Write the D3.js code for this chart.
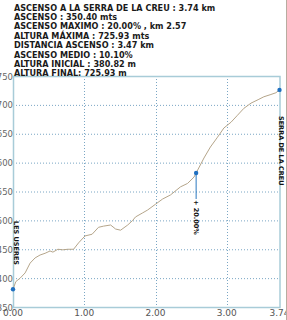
<!DOCTYPE html>
<html>
<head>
<meta charset="utf-8">
<script src="https://cdn.jsdelivr.net/npm/d3@7"></script>
<style>
body { margin: 0; background: #fff; }
svg { display: block; }
</style>
</head>
<body>
<script>
var w = 287, h = 320;

// header lines
var headerLines = [
    "ASCENSO A LA SERRA DE LA CREU : 3.74 km",
    "ASCENSO : 350.40 mts",
    "ASCENSO MAXIMO : 20.00% , km 2.57",
    "ALTURA MÁXIMA : 725.93 mts",
    "DISTANCIA ASCENSO : 3.47 km",
    "ASCENSO MEDIO : 10.10%",
    "ALTURA INICIAL : 380.82 m",
    "ALTURA FINAL: 725.93 m"
];

// profile: distance (km) and altitude (m)
var distance = [0.00, 0.04, 0.10, 0.17, 0.24, 0.31, 0.38, 0.45, 0.52, 0.56, 0.63, 0.70, 0.77, 0.85,
    0.92, 1.01, 1.11, 1.20, 1.27, 1.37, 1.44, 1.51, 1.61, 1.68, 1.72, 1.82, 1.89, 2.00, 2.10,
    2.21, 2.35, 2.45, 2.54, 2.57, 2.68, 2.77, 2.87, 2.96, 3.06, 3.15, 3.24, 3.34, 3.44, 3.52,
    3.62, 3.69, 3.74];
var altitude = [380.82, 394, 400, 409, 426, 435, 440, 443, 447, 445, 450, 449, 450, 450,
    461, 473, 476, 488, 490, 492, 485, 483, 492, 500, 506, 513, 518, 528, 537,
    544, 558, 564, 575, 582, 608, 627, 644, 660, 670, 682, 694, 703, 709, 714,
    718, 721, 725.93];

// marked points
var markDist = [0.00, 2.57, 3.74];
var markAlt = [380.82, 582, 725.93];
var markLabel = ["LES USERES", "+ 20.00%", "SERRA DE LA CREU"];

var xTicks = [0, 1, 2, 3, 3.74];
var yTicks = [350, 400, 450, 500, 550, 600, 650, 700, 750];

var svg = d3.select("body")
    .append("svg")
    .attr("width", w)
    .attr("height", h);

var xScale = d3.scaleLinear()
    .domain([0, 3.74])
    .range([13, 279.5]);

var yScale = d3.scaleLinear()
    .domain([350, 750])
    .range([307, 76]);

// grid
svg.append("g")
    .selectAll("line")
    .data(yTicks.slice(1, -1))
    .enter().append("line")
    .attr("x1", xScale(0))
    .attr("x2", xScale(3.74))
    .attr("y1", d => yScale(d) + 0.5)
    .attr("y2", d => yScale(d) + 0.5)
    .style("stroke", "#7aa6c4")
    .style("stroke-width", 1)
    .style("stroke-dasharray", "1,2");

svg.append("g")
    .selectAll("line")
    .data([1, 2, 3])
    .enter().append("line")
    .attr("x1", d => Math.round(xScale(d)) + 0.5)
    .attr("x2", d => Math.round(xScale(d)) + 0.5)
    .attr("y1", yScale(750))
    .attr("y2", yScale(350))
    .style("stroke", "#7aa6c4")
    .style("stroke-width", 1)
    .style("stroke-dasharray", "1,2");

// frame
svg.append("rect")
    .attr("x", xScale(0) + 0.5)
    .attr("y", yScale(750) + 0.5)
    .attr("width", xScale(3.74) - xScale(0))
    .attr("height", yScale(350) - yScale(750))
    .style("fill", "none")
    .style("stroke", "#a8ccd8")
    .style("stroke-width", 1.5);

// axes labels
svg.append("g")
    .selectAll("text")
    .data(yTicks)
    .enter().append("text")
    .attr("x", 13)
    .attr("y", d => yScale(d) + 3.5)
    .attr("text-anchor", "end")
    .style("font-family", "DejaVu Sans")
    .style("font-size", "8.5px")
    .style("fill", "#666")
    .text(d => d);

svg.append("g")
    .selectAll("text")
    .data(xTicks)
    .enter().append("text")
    .attr("x", d => xScale(d))
    .attr("y", 316)
    .attr("text-anchor", "middle")
    .style("font-family", "DejaVu Sans")
    .style("font-size", "9px")
    .style("fill", "#555")
    .text(d => d.toFixed(2));

// profile line
var line = d3.line()
    .x((d, i) => xScale(distance[i]))
    .y(d => yScale(d));

svg.append("path")
    .datum(altitude)
    .attr("d", line)
    .style("fill", "none")
    .style("stroke", "#b5a58a")
    .style("stroke-width", 1);

// marker stem for max slope
svg.append("line")
    .attr("x1", xScale(markDist[1]))
    .attr("x2", xScale(markDist[1]))
    .attr("y1", yScale(markAlt[1]))
    .attr("y2", yScale(markAlt[1]) + 26)
    .style("stroke", "#2a78c0")
    .style("stroke-width", 1);

svg.append("g")
    .selectAll("circle")
    .data(markAlt)
    .enter().append("circle")
    .attr("cx", (d, i) => xScale(markDist[i]))
    .attr("cy", d => yScale(d))
    .attr("r", 2.2)
    .style("fill", "#1f6fc0");

// vertical labels
var labelPos = [
    [16, 221],
    [xScale(markDist[1]), yScale(markAlt[1]) + 27],
    [281.5, 116]
];
svg.append("g")
    .selectAll("text")
    .data(markLabel)
    .enter().append("text")
    .attr("transform", (d, i) => "translate(" + labelPos[i][0] + "," + labelPos[i][1] + ") rotate(90)")
    .attr("dy", "0.35em")
    .style("font-family", "DejaVu Sans")
    .style("font-weight", "bold")
    .style("font-size", "6.5px")
    .style("fill", "#111")
    .text(d => d);

// header
svg.append("g")
    .selectAll("text")
    .data(headerLines)
    .enter().append("text")
    .attr("x", 14)
    .attr("y", (d, i) => 10.5 + i * 9.4)
    .style("font-family", "DejaVu Sans Condensed, DejaVu Sans")
    .style("font-stretch", "condensed")
    .style("font-weight", "bold")
    .style("font-size", "9px")
    .style("fill", "#1a1a1a")
    .text(d => d);

// right edge
svg.append("line")
    .attr("x1", 286.5).attr("x2", 286.5)
    .attr("y1", 0).attr("y2", h)
    .style("stroke", "#b8aca0");
</script>
</body>
</html>
